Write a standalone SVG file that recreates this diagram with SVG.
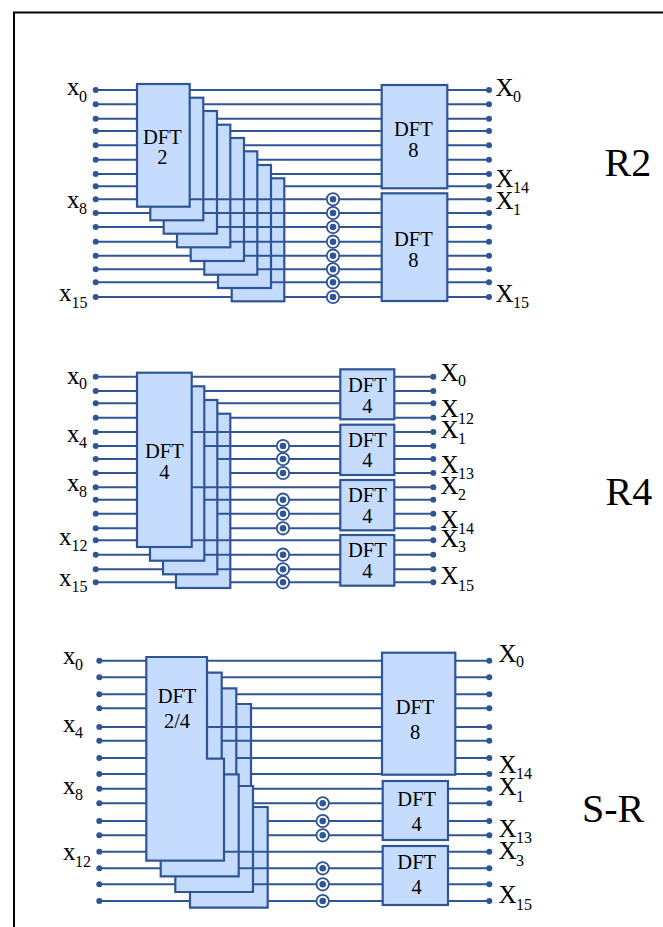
<svg xmlns="http://www.w3.org/2000/svg" width="663" height="927" viewBox="0 0 663 927">
<style>
.b{fill:#c5dcff;stroke:#2f5597;stroke-width:2.2}
.w{fill:none;stroke:#2f5597;stroke-width:2;marker-start:url(#d);marker-end:url(#d)}
text{font-family:"Liberation Serif","Times New Roman",serif;fill:#000}
.t{font-size:20.500px;text-anchor:middle}
.l{font-size:25px}
.s{font-size:16px}
.g{font-size:40px}
.o{fill:#fff;stroke:#2f5597;stroke-width:1.8}
.i{fill:#2f5597}
</style>
<defs>
<marker id="d" markerUnits="userSpaceOnUse" markerWidth="8" markerHeight="8" refX="4" refY="4"><circle cx="4" cy="4" r="3" fill="#2f5597"/></marker>
<g id="tw"><circle class="o" r="6.200"/><circle class="i" r="3.300"/></g>
</defs>
<rect width="663" height="927" fill="#fff"/>
<path id="frame" d="M14 927V12.500H663" fill="none" stroke="#000" stroke-width="2"/>

<g id="r2-stage1">
<rect class="b" x="231.700" y="178.300" width="52.600" height="123"/>
<rect class="b" x="218" y="165" width="53" height="123"/>
<rect class="b" x="204.300" y="151.300" width="53" height="123.400"/>
<rect class="b" x="190.700" y="138" width="53.300" height="123"/>
<rect class="b" x="177" y="124.700" width="53.300" height="122.600"/>
<rect class="b" x="163.700" y="111" width="53.300" height="122.700"/>
<rect class="b" x="150.300" y="97.700" width="53" height="122.600"/>
<rect id="r2-dft2" class="b" x="137" y="84" width="52.700" height="122.700"/>
<text class="t" x="162.300" y="144.300">DFT</text><text class="t" x="162.300" y="164.300">2</text>
</g>
<g id="r2-dft8a"><rect class="b" x="381.700" y="85" width="65.600" height="103.300"/><text class="t" x="413.300" y="136.300">DFT</text><text class="t" x="413.300" y="156.700">8</text></g>
<g id="r2-dft8b"><rect class="b" x="381.700" y="193.300" width="65.600" height="107.700"/><text class="t" x="413.300" y="245.700">DFT</text><text class="t" x="413.300" y="267.300">8</text></g>

<g id="r4-stage1">
<rect class="b" x="176" y="413.700" width="54.300" height="174.300"/>
<rect class="b" x="163" y="400" width="54.300" height="174.300"/>
<rect class="b" x="150" y="386.300" width="54.300" height="174.400"/>
<rect id="r4-dft4" class="b" x="137" y="372.700" width="54.700" height="174.300"/>
<text class="t" x="164.300" y="458.300">DFT</text><text class="t" x="164.300" y="479">4</text>
</g>
<g id="r4-a"><rect class="b" x="340.300" y="369.300" width="54" height="50"/><text class="t" x="367.300" y="392">DFT</text><text class="t" x="367.300" y="412.700">4</text></g>
<g id="r4-b"><rect class="b" x="340.300" y="424.700" width="54" height="50.300"/><text class="t" x="367.300" y="446.700">DFT</text><text class="t" x="367.300" y="467.300">4</text></g>
<g id="r4-c"><rect class="b" x="340.300" y="480" width="54" height="50.300"/><text class="t" x="367.300" y="502.300">DFT</text><text class="t" x="367.300" y="523.300">4</text></g>
<g id="r4-d"><rect class="b" x="340.300" y="535" width="54" height="50.700"/><text class="t" x="367.300" y="557.300">DFT</text><text class="t" x="367.300" y="578">4</text></g>

<g id="sr-stage1">
<path class="b" d="M190 704H251V807H267.700V907.700H190Z"/>
<path class="b" d="M175.300 688.300H236.300V786H253V892H175.300Z"/>
<path class="b" d="M160.700 672.700H221.700V774.300H238.700V876.300H160.700Z"/>
<path id="sr-dft24" class="b" d="M146.300 657H207V758.700H224V860.700H146.300Z"/>
<text class="t" x="177" y="703.300">DFT</text><text class="t" x="177" y="728">2/4</text>
</g>
<g id="sr-dft8"><rect class="b" x="382" y="652.700" width="73.300" height="122"/><text class="t" x="415" y="714">DFT</text><text class="t" x="415" y="739.300">8</text></g>
<g id="sr-a"><rect class="b" x="382.700" y="781" width="65.300" height="59"/><text class="t" x="416.700" y="806">DFT</text><text class="t" x="416.700" y="831">4</text></g>
<g id="sr-b"><rect class="b" x="382.700" y="846" width="65.300" height="59"/><text class="t" x="416.700" y="869.300">DFT</text><text class="t" x="416.700" y="894">4</text></g>

<g id="connectors">
<path class="w" d="M95.700 90H137M189.700 90H381.700M447.300 90H489"/>
<path class="w" d="M95.700 104.300H137M203.300 104.300H381.700M447.300 104.300H489"/>
<path class="w" d="M95.700 118.700H137M217 118.700H381.700M447.300 118.700H489"/>
<path class="w" d="M95.700 131H137M230.300 131H381.700M447.300 131H489"/>
<path class="w" d="M95.700 145.300H137M244 145.300H381.700M447.300 145.300H489"/>
<path class="w" d="M95.700 159.700H137M257.300 159.700H381.700M447.300 159.700H489"/>
<path class="w" d="M95.700 174H137M271 174H381.700M447.300 174H489"/>
<path class="w" d="M95.700 186.300H137M284.300 186.300H381.700M447.300 186.300H489"/>
<path class="w" d="M95.700 199.300H137M189.700 199.300H381.700M447.300 199.300H489"/>
<path class="w" d="M95.700 213H150.300M203.300 213H381.700M447.300 213H489"/>
<path class="w" d="M95.700 227H163.700M217 227H381.700M447.300 227H489"/>
<path class="w" d="M95.700 241.700H177M230.300 241.700H381.700M447.300 241.700H489"/>
<path class="w" d="M95.700 255.700H190.700M244 255.700H381.700M447.300 255.700H489"/>
<path class="w" d="M95.700 269.300H204.300M257.300 269.300H381.700M447.300 269.300H489"/>
<path class="w" d="M95.700 282.300H218M271 282.300H381.700M447.300 282.300H489"/>
<path class="w" d="M95.700 297H231.700M284.300 297H381.700M447.300 297H489"/>

<path class="w" d="M95.700 376.700H137M191.700 376.700H340.300M394.300 376.700H433.300"/>
<path class="w" d="M95.700 391H137M204.300 391H340.300M394.300 391H433.300"/>
<path class="w" d="M95.700 403.300H137M217.300 403.300H340.300M394.300 403.300H433.300"/>
<path class="w" d="M95.700 417.700H137M230.300 417.700H340.300M394.300 417.700H433.300"/>
<path class="w" d="M95.700 432H137M191.700 432H340.300M394.300 432H433.300"/>
<path class="w" d="M95.700 446H137M204.300 446H340.300M394.300 446H433.300"/>
<path class="w" d="M95.700 459H137M217.300 459H340.300M394.300 459H433.300"/>
<path class="w" d="M95.700 473H137M230.300 473H340.300M394.300 473H433.300"/>
<path class="w" d="M95.700 487.300H137M191.700 487.300H340.300M394.300 487.300H433.300"/>
<path class="w" d="M95.700 499.700H137M204.300 499.700H340.300M394.300 499.700H433.300"/>
<path class="w" d="M95.700 513.700H137M217.300 513.700H340.300M394.300 513.700H433.300"/>
<path class="w" d="M95.700 528.300H137M230.300 528.300H340.300M394.300 528.300H433.300"/>
<path class="w" d="M95.700 540.300H137M191.700 540.300H340.300M394.300 540.300H433.300"/>
<path class="w" d="M95.700 554.700H150M204.300 554.700H340.300M394.300 554.700H433.300"/>
<path class="w" d="M95.700 569.300H163M217.300 569.300H340.300M394.300 569.300H433.300"/>
<path class="w" d="M95.700 582.300H176M230.300 582.300H340.300M394.300 582.300H433.300"/>

<path class="w" d="M99.300 660.700H146.300M207 660.700H382M455.300 660.700H489.300"/>
<path class="w" d="M99.300 677.300H146.300M221.700 677.300H382M455.300 677.300H489.300"/>
<path class="w" d="M99.300 694.300H146.300M236.300 694.300H382M455.300 694.300H489.300"/>
<path class="w" d="M99.300 708.300H146.300M251 708.300H382M455.300 708.300H489.300"/>
<path class="w" d="M99.300 727H146.300M207 727H382M455.300 727H489.300"/>
<path class="w" d="M99.300 740.700H146.300M221.700 740.700H382M455.300 740.700H489.300"/>
<path class="w" d="M99.300 758H146.300M236.300 758H382M455.300 758H489.300"/>
<path class="w" d="M99.300 774H146.300M251 774H382M455.300 774H489.300"/>
<path class="w" d="M99.300 788.700H146.300M253 788.700H382.700M448 788.700H489.300"/>
<path class="w" d="M99.300 803.300H146.300M253 803.300H382.700M448 803.300H489.300"/>
<path class="w" d="M99.300 821H146.300M267.700 821H382.700M448 821H489.300"/>
<path class="w" d="M99.300 835.300H146.300M267.700 835.300H382.700M448 835.300H489.300"/>
<path class="w" d="M99.300 851.700H146.300M224 851.700H382.700M448 851.700H489.300"/>
<path class="w" d="M99.300 868.300H160.700M238.700 868.300H382.700M448 868.300H489.300"/>
<path class="w" d="M99.300 884.300H175.300M253 884.300H382.700M448 884.300H489.300"/>
<path class="w" d="M99.300 901H190M267.700 901H382.700M448 901H489.300"/>
</g>

<g id="twiddles">
<use href="#tw" x="333" y="199.300"/><use href="#tw" x="333" y="213"/><use href="#tw" x="333" y="227"/><use href="#tw" x="333" y="241.700"/><use href="#tw" x="333" y="255.700"/><use href="#tw" x="333" y="269.300"/><use href="#tw" x="333" y="282.300"/><use href="#tw" x="333" y="297"/>
<use href="#tw" x="283" y="446"/><use href="#tw" x="283" y="459"/><use href="#tw" x="283" y="473"/><use href="#tw" x="283" y="499.700"/><use href="#tw" x="283" y="513.700"/><use href="#tw" x="283" y="528.300"/><use href="#tw" x="283" y="554.700"/><use href="#tw" x="283" y="569.300"/><use href="#tw" x="283" y="582.300"/>
<use href="#tw" x="322.700" y="803.300"/><use href="#tw" x="322.700" y="821"/><use href="#tw" x="322.700" y="835.300"/><use href="#tw" x="322.700" y="868.300"/><use href="#tw" x="322.700" y="884.300"/><use href="#tw" x="322.700" y="901"/>
</g>

<g id="labels">
<text class="l" x="67" y="95">x<tspan class="s" x="79" y="101.700">0</tspan></text>
<text class="l" x="67" y="207.700">x<tspan class="s" x="79" y="214">8</tspan></text>
<text class="l" x="59" y="300.700">x<tspan class="s" x="71.500" y="308">15</tspan></text>
<text class="l" x="495.500" y="96">X<tspan class="s" x="513" y="101.700">0</tspan></text>
<text class="l" x="495.500" y="186.700">X<tspan class="s" x="513" y="192.700">14</tspan></text>
<text class="l" x="495.500" y="209">X<tspan class="s" x="513" y="215">1</tspan></text>
<text class="l" x="495.500" y="302.300">X<tspan class="s" x="513" y="307.700">15</tspan></text>

<text class="l" x="67" y="384">x<tspan class="s" x="79" y="389.300">0</tspan></text>
<text class="l" x="67" y="441.700">x<tspan class="s" x="79" y="447.700">4</tspan></text>
<text class="l" x="67" y="490.700">x<tspan class="s" x="79" y="497">8</tspan></text>
<text class="l" x="59" y="545">x<tspan class="s" x="71.500" y="551">12</tspan></text>
<text class="l" x="59" y="585.700">x<tspan class="s" x="71.500" y="591.700">15</tspan></text>
<text class="l" x="440.500" y="380.700">X<tspan class="s" x="458" y="386">0</tspan></text>
<text class="l" x="440.500" y="417.300">X<tspan class="s" x="458" y="423.700">12</tspan></text>
<text class="l" x="440.500" y="437.700">X<tspan class="s" x="458" y="444">1</tspan></text>
<text class="l" x="440.500" y="472.700">X<tspan class="s" x="458" y="478.700">13</tspan></text>
<text class="l" x="440.500" y="494">X<tspan class="s" x="458" y="500.300">2</tspan></text>
<text class="l" x="440.500" y="528">X<tspan class="s" x="458" y="534">14</tspan></text>
<text class="l" x="440.500" y="546.700">X<tspan class="s" x="458" y="552">3</tspan></text>
<text class="l" x="440.500" y="584.300">X<tspan class="s" x="458" y="590.700">15</tspan></text>

<text class="l" x="63" y="664">x<tspan class="s" x="75" y="670">0</tspan></text>
<text class="l" x="63" y="731.700">x<tspan class="s" x="75" y="737.700">4</tspan></text>
<text class="l" x="63" y="794">x<tspan class="s" x="75" y="800.300">8</tspan></text>
<text class="l" x="63" y="860">x<tspan class="s" x="75" y="867">12</tspan></text>
<text class="l" x="498.500" y="661.700">X<tspan class="s" x="516" y="667.300">0</tspan></text>
<text class="l" x="498.500" y="772.700">X<tspan class="s" x="516" y="778.700">14</tspan></text>
<text class="l" x="498.500" y="795.300">X<tspan class="s" x="516" y="801.700">1</tspan></text>
<text class="l" x="498.500" y="836.700">X<tspan class="s" x="516" y="843">13</tspan></text>
<text class="l" x="498.500" y="859">X<tspan class="s" x="516" y="865.700">3</tspan></text>
<text class="l" x="498.500" y="903.300">X<tspan class="s" x="516" y="910">15</tspan></text>

<text class="g" x="604.500" y="175.700">R2</text>
<text class="g" x="605.500" y="505">R4</text>
<text class="g" x="582" y="822">S-R</text>
</g>
</svg>
